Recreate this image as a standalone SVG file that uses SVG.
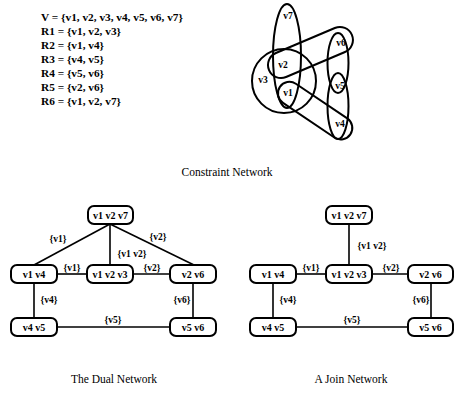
<svg xmlns="http://www.w3.org/2000/svg" width="454" height="393" viewBox="0 0 454 393">
<style>
.list{font-family:"Liberation Serif",serif;font-weight:bold;font-size:11.3px;fill:#000}
.hl{font-family:"Liberation Serif",serif;font-weight:bold;font-size:9.5px;fill:#000;text-anchor:middle}
.cap{font-family:"Liberation Serif",serif;font-size:11.5px;fill:#000;text-anchor:middle}
.lab{font-family:"Liberation Serif",serif;font-weight:bold;font-size:10px;fill:#000;text-anchor:middle}
.elab{font-family:"Liberation Serif",serif;font-weight:bold;font-size:9.5px;fill:#000;text-anchor:middle}
.hs{fill:none;stroke:#000;stroke-width:2}
.box{fill:#fff;stroke:#000;stroke-width:2}
.edge{stroke:#000;stroke-width:1.6;fill:none}
</style>
<rect width="454" height="393" fill="#fff"/>
<g id="variables">
<text class="list" x="41" y="21">V = {v1, v2, v3, v4, v5, v6, v7}</text>
<text class="list" x="41" y="35">R1 = {v1, v2, v3}</text>
<text class="list" x="41" y="49">R2 = {v1, v4}</text>
<text class="list" x="41" y="63">R3 = {v4, v5}</text>
<text class="list" x="41" y="77">R4 = {v5, v6}</text>
<text class="list" x="41" y="91">R5 = {v2, v6}</text>
<text class="list" x="41" y="105">R6 = {v1, v2, v7}</text>
</g>
<g id="hypergraph">
<circle class="hs" cx="284" cy="81" r="32"/>
<ellipse class="hs" cx="287" cy="56" rx="14" ry="52"/>
<ellipse class="hs" cx="338" cy="63" rx="10.5" ry="30"/>
<ellipse class="hs" cx="338" cy="106" rx="10.5" ry="33"/>
<rect class="hs" x="268" y="-13" width="90" height="26" rx="13" transform="translate(281,65) rotate(-23) translate(-281,0)"/>
<rect class="hs" x="278" y="-11.5" width="85" height="23" rx="11.5" transform="translate(289,93) rotate(34) translate(-289,0)"/>
<text class="hl" x="288" y="19">v7</text>
<text class="hl" x="283" y="68">v2</text>
<text class="hl" x="263" y="83">v3</text>
<text class="hl" x="288" y="96">v1</text>
<text class="hl" x="341" y="46">v6</text>
<text class="hl" x="340" y="89">v5</text>
<text class="hl" x="340" y="127">v4</text>
</g>
<text class="cap" x="227" y="176">Constraint Network</text>
<g id="connectors">
<line class="edge" x1="110" y1="224" x2="34" y2="265"/>
<line class="edge" x1="110" y1="224" x2="110" y2="265"/>
<line class="edge" x1="110" y1="224" x2="194" y2="265"/>
<line class="edge" x1="57" y1="274" x2="87" y2="274"/>
<line class="edge" x1="133" y1="274" x2="170" y2="274"/>
<line class="edge" x1="34" y1="283" x2="34" y2="318"/>
<line class="edge" x1="193" y1="283" x2="193" y2="318"/>
<line class="edge" x1="57" y1="327" x2="170" y2="327"/>
<line class="edge" x1="349" y1="224" x2="349" y2="265"/>
<line class="edge" x1="296" y1="274" x2="326" y2="274"/>
<line class="edge" x1="372" y1="274" x2="408" y2="274"/>
<line class="edge" x1="273" y1="283" x2="273" y2="318"/>
<line class="edge" x1="431" y1="283" x2="431" y2="318"/>
<line class="edge" x1="296" y1="327" x2="408" y2="327"/>
<text class="elab" x="58" y="242">{v1}</text>
<text class="elab" x="158" y="240">{v2}</text>
<text class="elab" x="132" y="257">{v1 v2}</text>
<text class="elab" x="72" y="271">{v1}</text>
<text class="elab" x="152" y="271">{v2}</text>
<text class="elab" x="49" y="303">{v4}</text>
<text class="elab" x="182" y="303">{v6}</text>
<text class="elab" x="113" y="323">{v5}</text>
<text class="elab" x="372" y="249">{v1 v2}</text>
<text class="elab" x="311" y="271">{v1}</text>
<text class="elab" x="391" y="271">{v2}</text>
<text class="elab" x="288" y="303">{v4}</text>
<text class="elab" x="421" y="303">{v6}</text>
<text class="elab" x="352" y="323">{v5}</text>
</g>
<g id="dual-v1v2v7"><rect class="box" x="88" y="206" width="45" height="18" rx="6"/><text class="lab" x="110.5" y="218.5">v1 v2 v7</text></g>
<g id="dual-v1v4"><rect class="box" x="11" y="265" width="46" height="18" rx="6"/><text class="lab" x="34" y="277.5">v1 v4</text></g>
<g id="dual-v1v2v3"><rect class="box" x="87" y="265" width="46" height="18" rx="6"/><text class="lab" x="110" y="277.5">v1 v2 v3</text></g>
<g id="dual-v2v6"><rect class="box" x="170" y="265" width="46" height="18" rx="6"/><text class="lab" x="193" y="277.5">v2 v6</text></g>
<g id="dual-v4v5"><rect class="box" x="11" y="318" width="46" height="18" rx="6"/><text class="lab" x="34" y="330.5">v4 v5</text></g>
<g id="dual-v5v6"><rect class="box" x="170" y="318" width="46" height="18" rx="6"/><text class="lab" x="193" y="330.5">v5 v6</text></g>
<g id="join-v1v2v7"><rect class="box" x="326" y="206" width="46" height="18" rx="6"/><text class="lab" x="349" y="218.5">v1 v2 v7</text></g>
<g id="join-v1v4"><rect class="box" x="250" y="265" width="46" height="18" rx="6"/><text class="lab" x="273" y="277.5">v1 v4</text></g>
<g id="join-v1v2v3"><rect class="box" x="326" y="265" width="46" height="18" rx="6"/><text class="lab" x="349" y="277.5">v1 v2 v3</text></g>
<g id="join-v2v6"><rect class="box" x="408" y="265" width="45" height="18" rx="6"/><text class="lab" x="430.5" y="277.5">v2 v6</text></g>
<g id="join-v4v5"><rect class="box" x="250" y="318" width="46" height="18" rx="6"/><text class="lab" x="273" y="330.5">v4 v5</text></g>
<g id="join-v5v6"><rect class="box" x="408" y="318" width="45" height="18" rx="6"/><text class="lab" x="430.5" y="330.5">v5 v6</text></g>
<text class="cap" x="114" y="383">The Dual Network</text>
<text class="cap" x="351" y="383">A Join Network</text>
</svg>
